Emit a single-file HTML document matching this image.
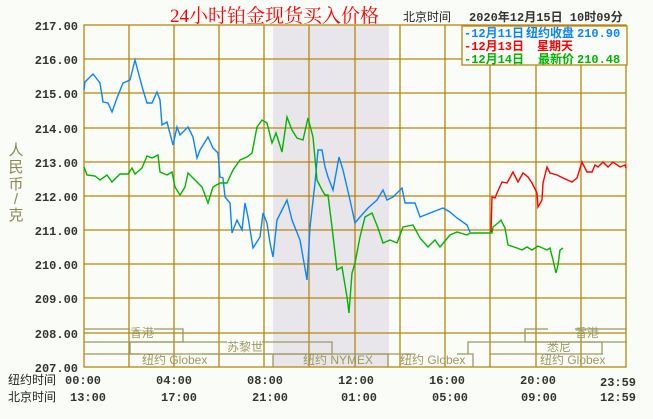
<!DOCTYPE html>
<html><head><meta charset="utf-8"><style>
html,body{margin:0;padding:0;background:#fafcf8;}
svg{display:block;}
.m{font-family:"Liberation Mono","DejaVu Sans Mono",monospace;font-weight:bold;font-size:12px;fill:#333;}
.c{font-family:"Liberation Sans","Noto Sans CJK SC",sans-serif;font-size:12px;}
.b{font-family:"Liberation Sans","Noto Sans CJK SC",sans-serif;font-size:11px;fill:#9a9a60;}
</style></head><body>
<svg width="653" height="419" viewBox="0 0 653 419" xmlns="http://www.w3.org/2000/svg">
<rect width="653" height="419" fill="#fafcf8"/>
<rect x="273" y="25" width="116" height="342" fill="#e8e6ea"/>
<g stroke="#b8860b" stroke-width="1.3" fill="none">
<rect x="84" y="25" width="542" height="342"/>
<path d="M84 59H626M84 93H626M84 128H626M84 162H626M84 196H626M84 230H626M84 264H626M84 298H626M84 333H626"/>
<path d="M129 25V367M174 25V367M219 25V367M264 25V367M309 25V367M355 25V367M400 25V367M445 25V367M490 25V367M536 25V367M581 25V367"/>
</g>
<g stroke="#9a9a60" stroke-width="1.3" fill="none">
<path d="M84 329H130M154 329H183V342H84"/>
<path d="M130 342V354H332V342H262M227 342H130"/>
<path d="M84 354H140M202 354H272"/>
<path d="M273 367V354H388V367"/>
<path d="M367 354H397M390 354H415M457 354H473V367"/>
<path d="M525 342V329H548M575 329H627M525 342H627"/>
<path d="M468 354V342H602V354M490 354H603"/>
</g>
<g class="b">
<text x="130" y="337" font-size="12">香港</text>
<text x="227" y="351" font-size="12">苏黎世</text>
<text x="142" y="364" font-size="12">纽约 Globex</text>
<text x="303" y="364" font-size="12">纽约 NYMEX</text>
<text x="400" y="364" font-size="12">纽约 Globex</text>
<text x="575" y="337" font-size="12">香港</text>
<text x="547" y="351" font-size="12">悉尼</text>
<text x="540" y="364" font-size="12">纽约 Globex</text>
</g>
<g fill="none" stroke-width="1.4" stroke-linejoin="miter">
<polyline stroke="#0a84ff" points="84,90 85,82 93,74 100,83 103,102 108,103 112,112 117,98 123,83 130,80 135,60 143,90 147,103 152,103 157,92 160,100 162,125 167,122 173,145 177,127 180,135 188,127 193,137 197,158 200,150 208,137 213,148 218,153 220,177 223,178 225,197 230,203 232,233 237,220 242,230 245,203 248,217 253,248 260,237 263,213 267,223 270,243 273,257 277,220 287,200 292,220 300,240 307,280 310,227 315,183 318,150 322,150 325,167 328,177 333,190 339,157 343,170 350,200 355,223 360,217 368,208 377,200 383,190 387,200 393,197 402,188 405,203 415,203 420,217 430,213 443,208 450,212 457,218 467,225 470,232"/>
<polyline stroke="#00b400" points="84,167 87,175 95,176 100,180 107,175 112,182 120,174 128,174 132,168 135,174 142,168 147,156 152,158 158,155 160,172 167,175 172,172 175,187 180,195 185,187 188,173 195,180 202,187 208,203 213,187 220,183 227,183 233,170 240,160 247,157 252,153 257,127 262,120 267,123 272,143 276,133 282,152 287,117 292,130 297,138 303,140 308,118 313,137 317,180 322,190 325,195 328,195 332,227 337,270 342,267 347,297 349,313 352,273 355,263 360,237 365,217 372,213 378,228 383,243 390,240 397,243 403,227 413,225 420,238 428,247 435,240 440,247 450,235 457,232 467,235 470,233 492,233 493,227 498,223 501,220 505,228 508,245 517,248 522,250 527,247 532,250 538,246 547,250 550,248 553,260 556,273 558,265 560,250 563,248"/>
<polyline stroke="#ff0000" points="491,232 492,197 495,198 497,193 502,182 507,183 513,172 518,182 523,173 528,177 532,183 537,193 538,207 542,200 543,183 547,167 550,173 557,175 563,178 572,182 577,178 582,162 587,172 592,172 595,165 598,167 603,162 608,167 613,162 620,167 625,165 626,168"/>
</g>
<g class="m" text-anchor="end">
<text x="78" y="30">217.00</text><text x="78" y="64">216.00</text><text x="78" y="98">215.00</text>
<text x="78" y="133">214.00</text><text x="78" y="167">213.00</text><text x="78" y="201">212.00</text>
<text x="78" y="235">211.00</text><text x="78" y="269">210.00</text><text x="78" y="303">209.00</text>
<text x="78" y="338">208.00</text><text x="78" y="372">207.00</text>
</g>
<g class="c" fill="#8a8a50" text-anchor="middle">
<text x="16" y="155" font-size="15">人</text><text x="16" y="172" font-size="15">民</text>
<text x="16" y="189" font-size="15">币</text><text x="16" y="204" font-size="15">/</text>
<text x="16" y="220" font-size="15">克</text>
</g>
<text class="c" x="8" y="384" fill="#222">纽约时间</text>
<text class="c" x="8" y="401" fill="#222">北京时间</text>
<g class="m">
<text x="65" y="384">00:00</text><text x="156" y="384">04:00</text><text x="247" y="384">08:00</text>
<text x="338" y="384">12:00</text><text x="429" y="384">16:00</text><text x="520" y="384">20:00</text>
<text x="600" y="386">23:59</text>
<text x="70" y="401">13:00</text><text x="161" y="401">17:00</text><text x="252" y="401">21:00</text>
<text x="341" y="401">01:00</text><text x="432" y="401">05:00</text><text x="521" y="401">09:00</text>
<text x="600" y="401">12:59</text>
</g>
<text x="170" y="22" fill="#ff0000" font-family="'Liberation Serif','Noto Serif CJK SC',serif" font-size="19">24小时铂金现货买入价格</text>
<text class="c" x="403" y="21" fill="#222" font-size="12">北京时间</text>
<text class="m" x="469" y="21" font-size="12" style="font-family:'Liberation Mono','Noto Sans CJK SC',monospace">2020年12月15日 10时09分</text>
<rect x="462" y="26" width="165" height="39" fill="#fafcf8" stroke="#b8860b" stroke-width="1.3"/>
<g class="m" style="font-family:'Liberation Mono','Noto Sans CJK SC',monospace" font-size="12">
<text x="464" y="37" fill="#0a84ff">-12月11日 <tspan x="526">纽约收盘</tspan> <tspan x="577">210.90</tspan></text>
<text x="464" y="50" fill="#ff0000">-12月13日 <tspan x="537">星期天</tspan></text>
<text x="464" y="63" fill="#00b400">-12月14日 <tspan x="538">最新价</tspan> <tspan x="577">210.48</tspan></text>
</g>
</svg>
</body></html>
